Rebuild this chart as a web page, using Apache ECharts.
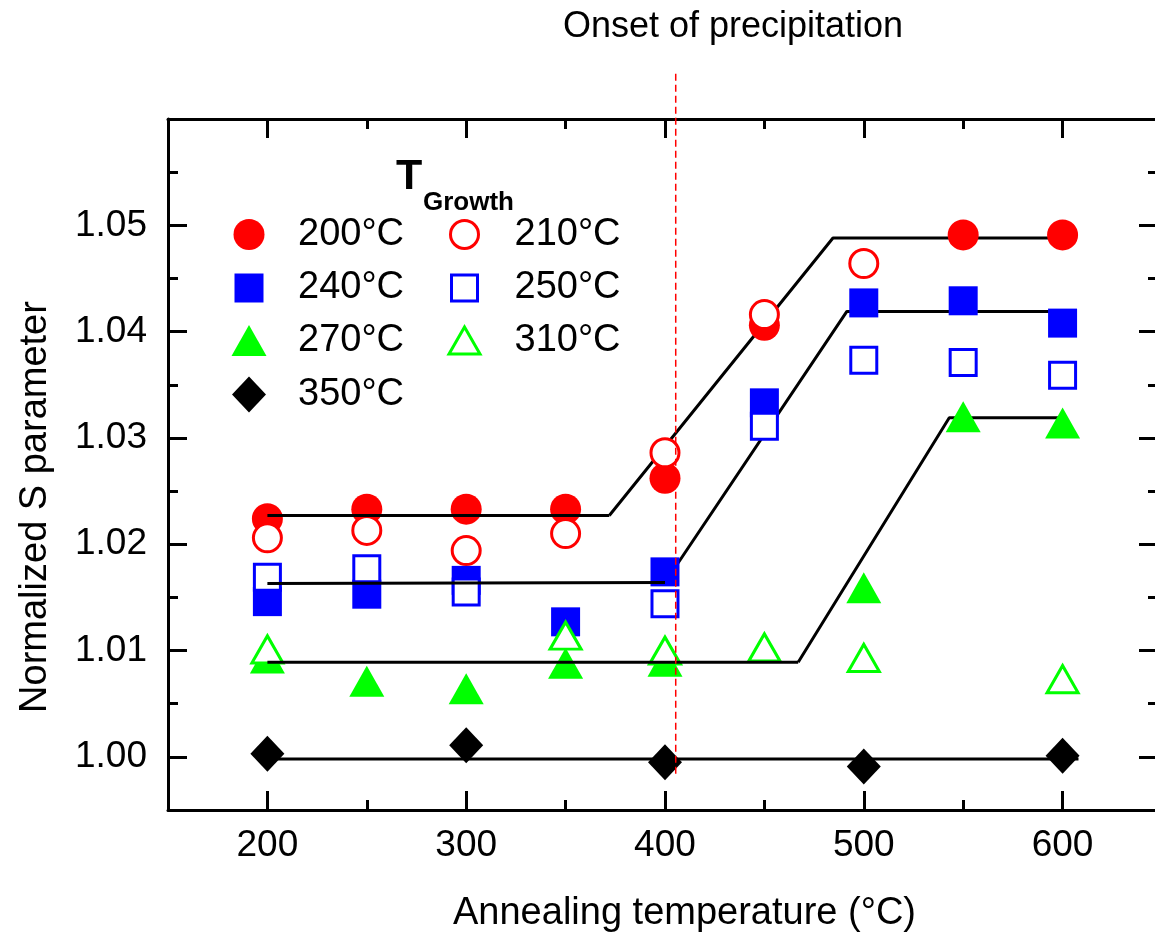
<!DOCTYPE html>
<html>
<head>
<meta charset="utf-8">
<title>Normalized S parameter vs annealing temperature</title>
<script src="https://cdn.jsdelivr.net/npm/echarts@6.0.0/dist/echarts.min.js"></script>
<style>
  html, body { margin: 0; padding: 0; background: #fff; }
  #chart { width: 1155px; height: 935px; }
</style>
</head>
<body>
<div id="chart"></div>
<script>
// ---- Axis ticks ----
const xTickLabels = [200, 300, 400, 500, 600];
const xMinorTicks = [250, 350, 450, 550];
const yTickLabels = [1.00, 1.01, 1.02, 1.03, 1.04, 1.05];
const yMinorTicks = [1.005, 1.015, 1.025, 1.035, 1.045, 1.055];

// ---- Measured normalized S parameter: [annealing temperature (°C), S] ----
const growth200 = [[200, 1.0224], [250, 1.0233], [300, 1.0233], [350, 1.0233], [400, 1.0262], [450, 1.0406], [550, 1.0491], [600, 1.0491]];
const growth210 = [[200, 1.0206], [250, 1.0213], [300, 1.0194], [350, 1.0210], [400, 1.0286], [450, 1.0416], [500, 1.0464]];
const growth240 = [[200, 1.0146], [250, 1.0153], [300, 1.0166], [350, 1.0127], [400, 1.0174], [450, 1.0333], [500, 1.0427], [550, 1.0429], [600, 1.0408]];
const growth250 = [[200, 1.0169], [250, 1.0177], [300, 1.0155], [400, 1.0144], [450, 1.0311], [500, 1.0373], [550, 1.0371], [600, 1.0359]];
const growth270 = [[200, 1.0093], [250, 1.0071], [300, 1.0064], [350, 1.0088], [400, 1.0090], [500, 1.0159], [550, 1.0320], [600, 1.0314]];
const growth310 = [[200, 1.0101], [350, 1.0114], [400, 1.0100], [450, 1.0103], [500, 1.0093], [600, 1.0073]];
const growth350 = [[200, 1.0003], [300, 1.0011], [400, 0.9995], [500, 0.9991], [600, 1.0001]];

// ---- Guide lines (plateau / rise / plateau) ----
const guideRedLow = [[200, 1.0227], [372, 1.0227]];
const guideRedHigh = [[372, 1.0227], [484.5, 1.0488], [600, 1.0488]];
const guideBlueLow = [[200, 1.0163], [400, 1.0164]];
const guideBlueHigh = [[400, 1.0164], [491.5, 1.0419], [600, 1.0419]];
const guideGreenLow = [[200, 1.0089], [467, 1.0089]];
const guideGreenHigh = [[467, 1.0089], [543, 1.0319], [600, 1.0319]];
const guideBlack = [[200, 0.9998], [608, 0.9998]];
const onsetLine = [[405.4, 0.9984], [405.4, 1.0646]];

const FONT = '"Liberation Sans", Arial, Helvetica, sans-serif';
const X_MIN = 150, X_MAX = 648, Y_MIN = 0.995, Y_MAX = 1.06;

function xAxis(position, ticks, len, showLine, labels) {
  return {
    type: 'value', position, min: X_MIN, max: X_MAX,
    axisLine: { show: showLine, onZero: false, lineStyle: { color: '#000', width: 3 } },
    axisTick: { show: true, inside: true, length: len, customValues: ticks, lineStyle: { color: '#000', width: 3 } },
    axisLabel: labels ? { show: true, customValues: labels, margin: 17, color: '#000', fontSize: 37, fontFamily: FONT } : { show: false },
    splitLine: { show: false }
  };
}
function yAxis(position, ticks, len, showLine, labels) {
  return {
    type: 'value', position, min: Y_MIN, max: Y_MAX,
    axisLine: { show: showLine, onZero: false, lineStyle: { color: '#000', width: 3 } },
    axisTick: { show: true, inside: true, length: len, customValues: ticks, lineStyle: { color: '#000', width: 3 } },
    axisLabel: labels ? { show: true, customValues: labels, margin: 21, color: '#000', fontSize: 37, fontFamily: FONT,
      formatter: v => Number(v).toFixed(2) } : { show: false },
    splitLine: { show: false }
  };
}

function scatter(name, data, symbol, size, fill, stroke, bw) {
  return {
    type: 'scatter', name, data, symbol, symbolSize: size, z: 2,
    itemStyle: { color: fill, borderColor: stroke, borderWidth: bw, opacity: 1 },
    emphasis: { disabled: true }, silent: true
  };
}
function guide(data, z) {
  return {
    type: 'line', data, symbol: 'none', z, clip: false, silent: true,
    lineStyle: { color: '#000', width: 3 }, emphasis: { disabled: true }
  };
}

// legend layout: [series name, icon, width, height, fill, stroke, border, icon centre x, centre y, text x]
const legendLayout = [
  ['200°C', 'circle', 31, 31, '#ff0000', '#ff0000', 0, 249, 234.5, 298],
  ['210°C', 'circle', 28, 28, '#ffffff', '#ff0000', 3, 463, 234.5, 513],
  ['240°C', 'rect', 29, 29, '#0000ff', '#0000ff', 0, 249, 288, 298],
  ['250°C', 'rect', 26, 26, '#ffffff', '#0000ff', 3, 463, 288, 513],
  ['270°C', 'triangle', 35, 31, '#00ff00', '#00ff00', 0, 249, 340.5, 298],
  ['310°C', 'triangle', 31, 27, '#ffffff', '#00ff00', 3, 463, 340.5, 513],
  ['350°C', 'diamond', 34, 36, '#000000', '#000000', 0, 249, 394.5, 298]
];
const legends = legendLayout.map(([name, icon, w, h, fill, stroke, bw, cx, cy, tx]) => ({
  show: true, orient: 'horizontal', padding: 0, selectedMode: false,
  left: cx - w / 2, top: cy - 19,
  itemWidth: w, itemHeight: h,
  data: [{ name, icon }],
  itemStyle: { color: fill, borderColor: stroke, borderWidth: bw },
  textStyle: { color: '#000', fontSize: 38, fontFamily: FONT, lineHeight: 38,
    padding: [0, 0, 0, Math.max(0, tx - (cx + w / 2 + 5))] }
}));

const chart = echarts.init(document.getElementById('chart'), null, { renderer: 'canvas' });
chart.setOption({
  animation: false,
  backgroundColor: '#ffffff',
  grid: { left: 168, top: 119, width: 990, height: 691, containLabel: false, outerBoundsMode: 'none' },
  xAxis: [
    xAxis('bottom', xTickLabels, 19, true, xTickLabels),
    xAxis('bottom', xMinorTicks, 10, false, null),
    xAxis('top', xTickLabels, 19, true, null),
    xAxis('top', xMinorTicks, 10, false, null)
  ],
  yAxis: [
    yAxis('left', yTickLabels, 19, true, yTickLabels),
    yAxis('left', yMinorTicks, 10, false, null),
    yAxis('right', yTickLabels, 19, true, null),
    yAxis('right', yMinorTicks, 10, false, null)
  ],
  legend: legends,
  series: [
    scatter('200°C', growth200, 'circle', 31, '#ff0000', '#ff0000', 0),
    scatter('210°C', growth210, 'circle', 28, '#ffffff', '#ff0000', 3),
    scatter('240°C', growth240, 'rect', 29, '#0000ff', '#0000ff', 0),
    scatter('250°C', growth250, 'rect', 26, '#ffffff', '#0000ff', 3),
    scatter('270°C', growth270, 'triangle', [35, 31], '#00ff00', '#00ff00', 0),
    scatter('310°C', growth310, 'triangle', [31, 27], '#ffffff', '#00ff00', 3),
    scatter('350°C', growth350, 'diamond', [34, 36], '#000000', '#000000', 0),
    guide(guideRedHigh, 1),
    guide(guideBlueHigh, 1),
    guide(guideGreenHigh, 1),
    guide(guideRedLow, 3),
    guide(guideBlueLow, 3),
    guide(guideGreenLow, 3),
    guide(guideBlack, 3),
    {
      type: 'line', data: onsetLine, symbol: 'none', z: 4, clip: false, silent: true,
      lineStyle: { color: '#ff0000', width: 1.5, type: [7, 4] }
    }
  ],
  graphic: [
    { type: 'text', x: 733, y: 27, style: { text: 'Onset of precipitation', font: '36px ' + FONT, fill: '#000', align: 'center', verticalAlign: 'middle' } },
    { type: 'text', x: 453, y: 914, style: { text: 'Annealing temperature (°C)', font: '38px ' + FONT, fill: '#000', align: 'left', verticalAlign: 'middle' } },
    { type: 'text', x: 36, y: 507, rotation: Math.PI / 2, style: { text: 'Normalized S parameter', font: '38px ' + FONT, fill: '#000', align: 'center', verticalAlign: 'middle' } },
    { type: 'text', x: 396, y: 177, style: { text: 'T', font: 'bold 43px ' + FONT, fill: '#000', align: 'left', verticalAlign: 'middle' } },
    { type: 'text', x: 423, y: 203, style: { text: 'Growth', font: 'bold 26px ' + FONT, fill: '#000', align: 'left', verticalAlign: 'middle' } }
  ]
});
</script>
</body>
</html>
